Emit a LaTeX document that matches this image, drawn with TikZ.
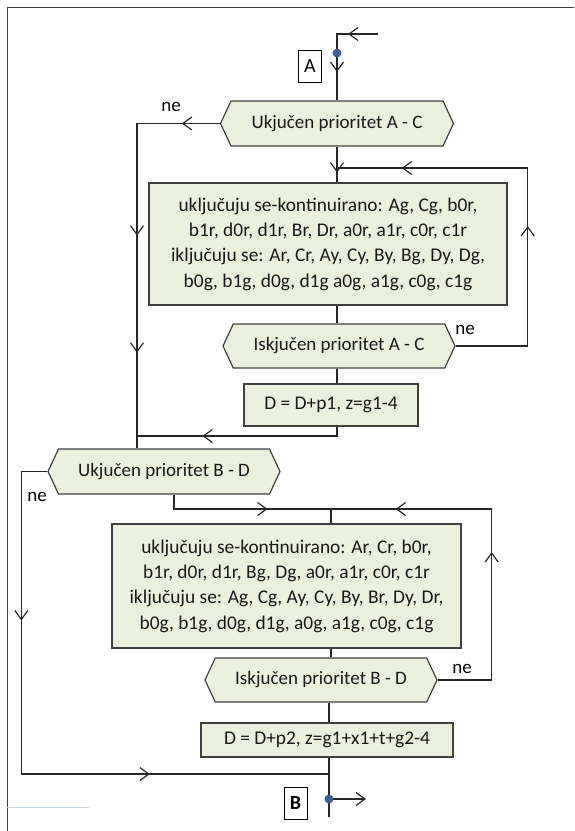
\documentclass[tikz,border=0pt]{standalone}
\usepackage{fontspec}
\setmainfont{Carlito}
\usetikzlibrary{shapes.symbols,arrows.meta,decorations.markings}
\definecolor{boxfill}{RGB}{235,240,222}
\definecolor{boxline}{RGB}{64,64,64}
\definecolor{dotblue}{RGB}{62,96,143}
\definecolor{faintline}{RGB}{196,208,230}
\tikzset{
    flow-box/.style = {draw=boxline, fill=boxfill, line width=1.2pt, rectangle, inner sep=0pt, align=center, text=black!90, font=\fontsize{19.4}{25.3}\selectfont},
    flow-test/.style = {flow-box, signal, signal to=east and west, signal pointer angle=130, font=\fontsize{19}{19}\selectfont},
    flow-line/.style = {draw=black!85, line width=1.2pt},
    barb/.tip = {Straight Barb[length=9pt, width=13pt]},
    tip-at/.style = {postaction={decorate, decoration={markings, mark=at position #1 with {\arrow{barb}}}}},
    label-box/.style = {draw, fill=white, line width=1pt, inner sep=0pt, minimum width=23pt, minimum height=32pt, font=\fontsize{20}{20}\selectfont},
    ne-text/.style = {font=\fontsize{19}{19}\selectfont},
}
\begin{document}
\begin{tikzpicture}[x=1pt, y=-1pt]
\useasboundingbox (0,0) rectangle (574,831);
\draw[boxline, line width=1pt] (574,7.5) -- (7,7.5) -- (7,831);
\draw[faintline, line width=1pt] (7,807) -- (89,807);

\node[flow-test, minimum width=233pt, minimum height=45pt] (testAC) at (337,123.5) {Ukjučen prioritet A - C};
\node[flow-box, minimum width=358pt, minimum height=122pt] (boxAC) at (328,244) {uključuju se-kontinuirano: Ag, Cg, b0r,\\ b1r, d0r, d1r, Br, Dr, a0r, a1r, c0r, c1r\\ iključuju se: Ar, Cr, Ay, Cy, By, Bg, Dy, Dg,\\ b0g, b1g, d0g, d1g a0g, a1g, c0g, c1g};
\node[flow-test, minimum width=232pt, minimum height=44pt] (endAC) at (339,346) {Iskjučen prioritet A - C};
\node[flow-box, minimum width=174pt, minimum height=42pt] (calcAC) at (331,405) {D = D+p1, z=g1-4};
\node[flow-test, minimum width=232pt, minimum height=45pt] (testBD) at (164,471.5) {Ukjučen prioritet B - D};
\node[flow-box, minimum width=349pt, minimum height=124pt] (boxBD) at (286.5,586) {uključuju se-kontinuirano: Ar, Cr, b0r,\\ b1r, d0r, d1r, Bg, Dg, a0r, a1r, c0r, c1r\\ iključuju se: Ag, Cg, Ay, Cy, By, Br, Dy, Dr,\\ b0g, b1g, d0g, d1g, a0g, a1g, c0g, c1g};
\node[flow-test, minimum width=232pt, minimum height=44pt] (endBD) at (321,680) {Iskjučen prioritet B - D};
\node[flow-box, minimum width=252pt, minimum height=34pt] (calcBD) at (327,740) {D = D+p2, z=g1+x1+t+g2-4};
\node[label-box] (labA) at (310,66) {A};
\node[label-box, font=\fontsize{20}{20}\selectfont\bfseries] (labB) at (295.5,803) {B};

\node[ne-text] (neAC) at (171,107) {ne};
\node[ne-text] (neACend) at (465,330) {ne};
\node[ne-text] (neBD) at (37,497) {ne};
\node[ne-text] (neBDend) at (462,669) {ne};

\coordinate (inA) at (378,34);
\coordinate (dotA) at (337,53);
\coordinate (loopAC) at (337,168);
\coordinate (joinAC) at (137,436);
\coordinate (loopBD) at (331,509);
\coordinate (joinBD) at (329,774);
\coordinate (dotB) at (329,799);
\coordinate (outB) at (329,817);

\draw[flow-line, tip-at=30pt, tip-at=79pt] (inA) -- (inA -| testAC.north) -- (testAC.north);
\fill[dotblue] (dotA) circle (4.5pt);
\draw[flow-line, tip-at=26pt] (testAC.south) -- (testAC.south |- boxAC.north);
\draw[flow-line] (boxAC.south -| testAC.south) -- (testAC.south |- endAC.north);
\draw[flow-line] (endAC.south -| testAC.south) -- (testAC.south |- calcAC.north);
\draw[flow-line, tip-at=144pt] (calcAC.south -| testAC.south) -- (testAC.south |- joinAC) -- (joinAC);
\draw[flow-line, tip-at=192pt, tip-at=376pt] (endAC.east) -- ++(72,0) |- (loopAC);
\draw[flow-line, tip-at=38pt, tip-at=195pt, tip-at=312pt] (testAC.west) -| (joinAC);
\draw[flow-line] (joinAC) -- (joinAC |- testBD.north);

\draw[flow-line, tip-at=175pt, tip-at=457pt] (testBD.west) -- ++(-26,0) |- (joinBD);
\draw[flow-line, tip-at=108pt] ([xshift=10pt]testBD.south) |- (loopBD);
\draw[flow-line, tip-at=182pt, tip-at=321pt] (endBD.east) -- ++(54,0) |- (loopBD);
\draw[flow-line] (loopBD) -- (loopBD |- boxBD.north);
\draw[flow-line] (boxBD.south -| loopBD) -- (loopBD |- endBD.north);
\draw[flow-line] (endBD.south -| joinBD) -- (joinBD |- calcBD.north);
\draw[flow-line] (calcBD.south -| joinBD) -- (outB);
\draw[flow-line, -{barb}] (dotB) -- ++(37,0);
\fill[dotblue] (dotB) circle (4.5pt);
\end{tikzpicture}
\end{document}
